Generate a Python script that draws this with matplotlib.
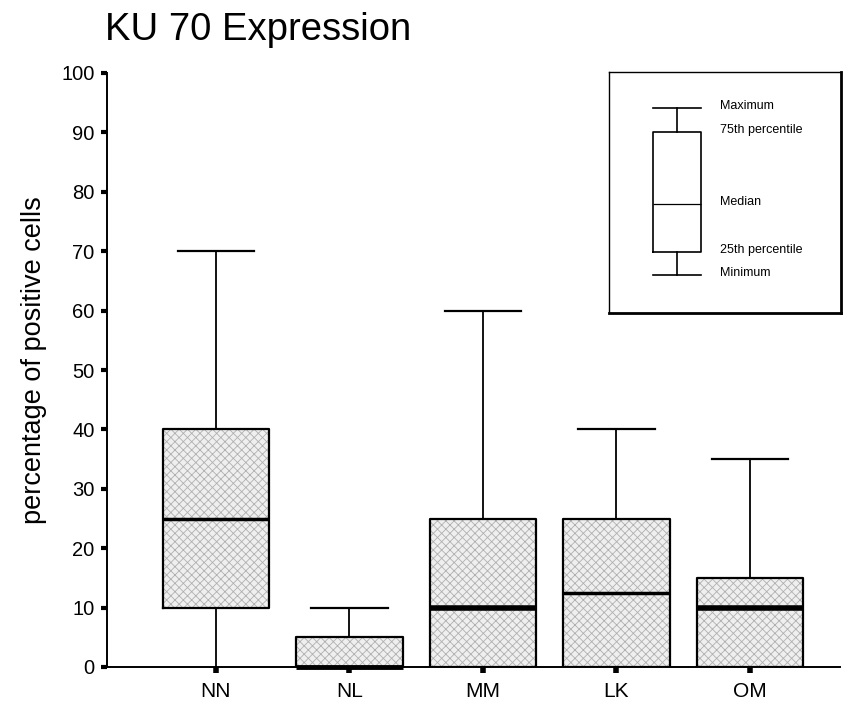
import matplotlib
matplotlib.use("Agg")
import matplotlib.pyplot as plt
import numpy as np

plt.rcParams['font.family'] = ['Liberation Sans', 'DejaVu Sans']
plt.rcParams['hatch.linewidth'] = 0.6

# ---- data ----
categories = ["NN", "NL", "MM", "LK", "OM"]
minimum    = [0, 0, 0, 0, 0]
q1         = [10, 0, 0, 0, 0]
median     = [25, 0, 10, 12.5, 10]
q3         = [40, 5, 25, 25, 15]
maximum    = [70, 10, 60, 40, 35]
yticks     = list(range(0, 101, 10))

# ---- styles ----
median_lw = [2.5, 3.5, 4.0, 2.5, 4.0]

fig = plt.figure(figsize=(8.53, 7.05), dpi=100)
ax = fig.add_axes([107/853, 1-667/705, (840-107)/853, (667-73)/705])

positions = np.arange(1, len(categories) + 1)
stats = []
for c, lo, a, m, b, hi in zip(categories, minimum, q1, median, q3, maximum):
    stats.append(dict(label=c, whislo=lo, q1=a, med=m, q3=b, whishi=hi, fliers=[]))

# hatched fill
ax.bar(positions, np.array(q3) - np.array(q1), bottom=q1, width=0.8,
       color='#efefef', edgecolor='#b0b0b0', hatch='xxxx', linewidth=0, zorder=1)

bp = ax.bxp(stats, positions=positions, widths=0.8, showfliers=False,
            boxprops=dict(color='black', linewidth=1.6),
            whiskerprops=dict(color='black', linewidth=1.3),
            capprops=dict(color='black', linewidth=1.6),
            medianprops=dict(color='black', linewidth=3),
            capwidths=0.57, manage_ticks=False)
for ln in bp['boxes']:
    ln.set_zorder(3)
for i, ln in enumerate(bp['medians']):
    ln.set_linewidth(median_lw[i])
    ln.set_solid_capstyle('butt')
    ln.set_clip_on(False)
    ln.set_zorder(4)
for i, ln in enumerate(bp['caps']):
    if i % 2 == 0:
        ln.set_visible(False)

ax.set_xlim(1 - 109/133.5, 5 + 90/133.5)
ax.set_ylim(0, 100)
ax.set_xticks(positions)
ax.set_xticklabels(categories, fontsize=15)
ax.set_yticks(yticks)
ax.set_yticklabels([str(t) for t in yticks], fontsize=14.5)
ax.tick_params(axis='y', direction='out', length=4, width=3, pad=5)
ax.tick_params(axis='x', direction='out', length=4, width=4, pad=7)
for s in ['top', 'right']:
    ax.spines[s].set_visible(False)
for s in ['left', 'bottom']:
    ax.spines[s].set_linewidth(1.4)
ax.set_ylabel("percentage of positive cells", fontsize=19.5)
ax.yaxis.set_label_coords(-0.082, 0.517)

fig.text(105/853, 1-40/705, "KU 70 Expression", fontsize=27.5, ha='left', va='baseline')

# ---- legend schematic ----
lax = fig.add_axes([609/853, 1-313/705, (841-609)/853, (313-72)/705])
lax.set_xticks([])
lax.set_yticks([])
for s in lax.spines.values():
    s.set_linewidth(1.0)
lax.spines['right'].set_linewidth(2.0)
lax.spines['bottom'].set_linewidth(2.0)
leg_stats = [dict(whislo=275-72, q1=252-72, med=204-72, q3=132-72, whishi=108-72, fliers=[])]
lax.bxp(leg_stats, positions=[68], widths=48, showfliers=False, capwidths=48,
        boxprops=dict(color='black', linewidth=1.2),
        whiskerprops=dict(color='black', linewidth=1.2),
        capprops=dict(color='black', linewidth=1.2),
        medianprops=dict(color='black', linewidth=0.9), manage_ticks=False)
lax.set_xlim(0, 232)
lax.set_ylim(241, 0)
leg_labels = [("Maximum", 108), ("75th percentile", 132), ("Median", 204),
              ("25th percentile", 252), ("Minimum", 275)]
for t, yy in leg_labels:
    lax.text(111, yy - 72 - 2, t, fontsize=9, va='center', ha='left')

fig.savefig("out.png", dpi=100)
